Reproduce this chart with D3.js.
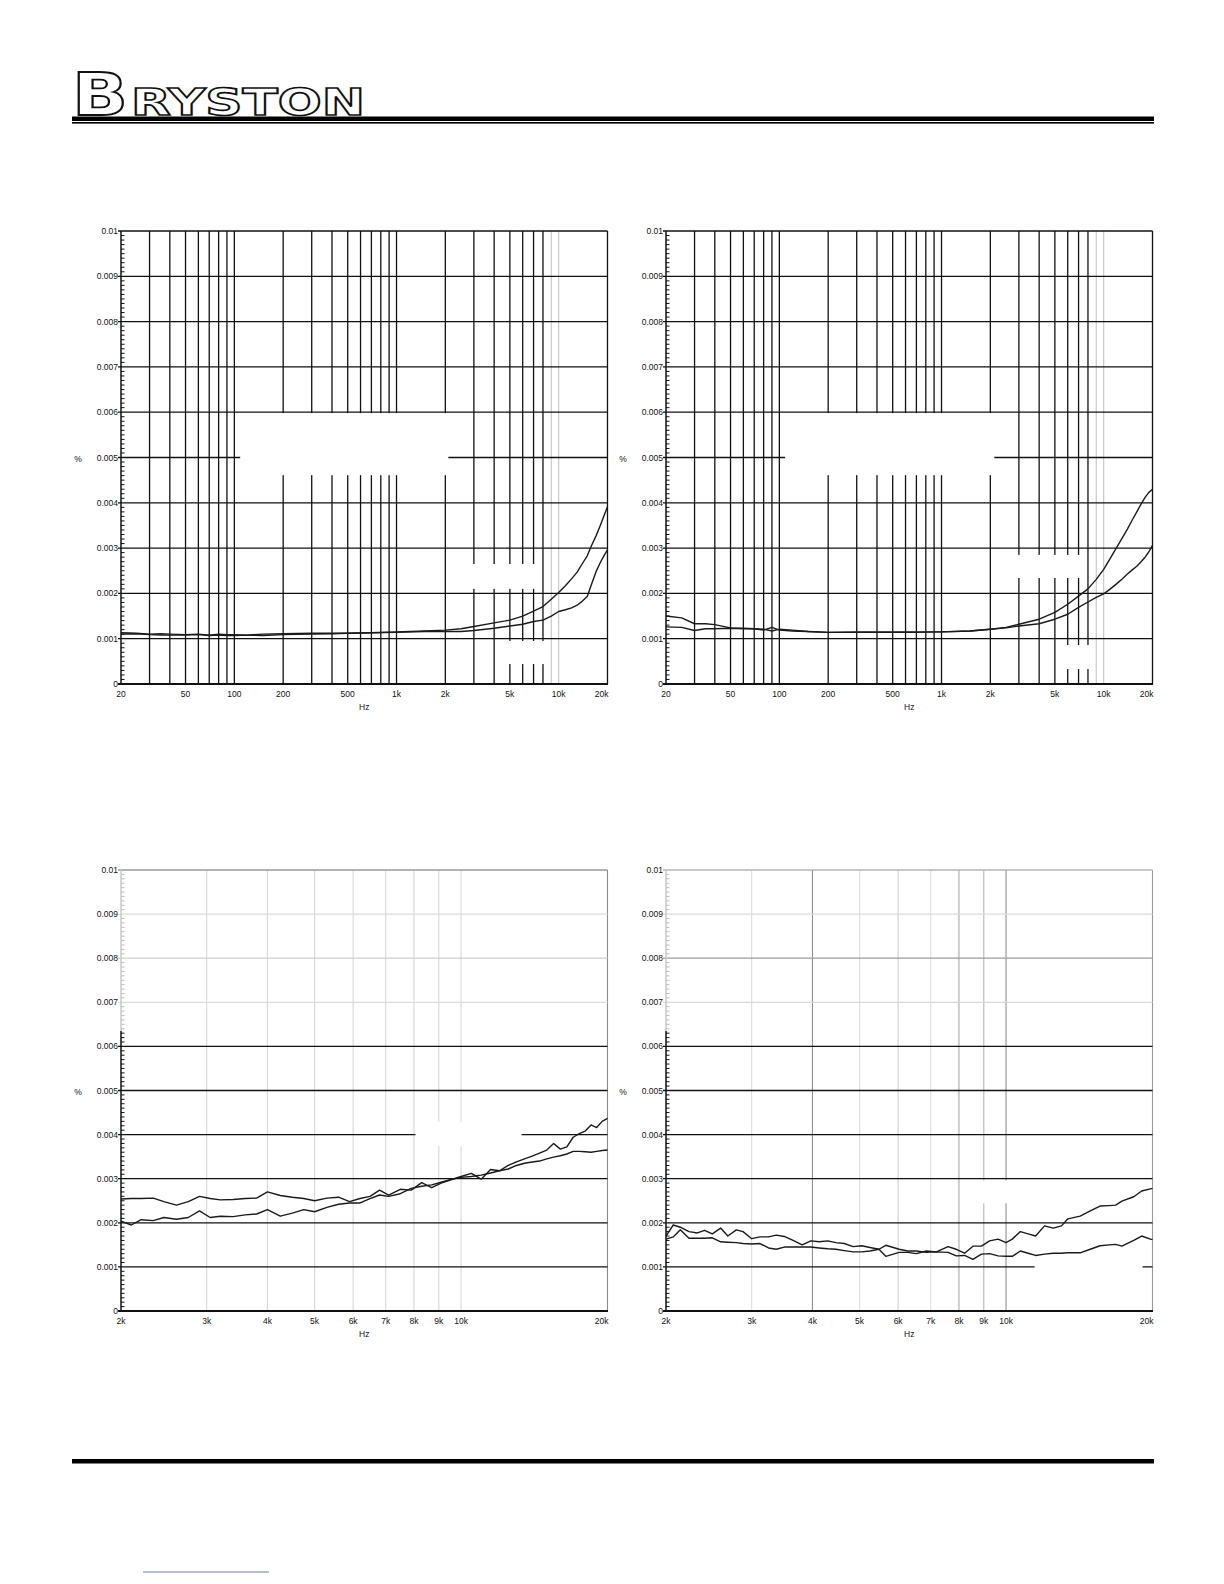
<!DOCTYPE html>
<html><head><meta charset="utf-8">
<script src="https://cdn.jsdelivr.net/npm/d3@7"></script>
<style>html,body{margin:0;padding:0;background:#fff}svg{display:block}</style>
</head><body>
<svg id="page" width="1224" height="1584"></svg>
<script>
// ---------------- DATA ----------------
const Y_TICKS = [0, 0.001, 0.002, 0.003, 0.004, 0.005, 0.006, 0.007, 0.008, 0.009, 0.01];
const Y_LABELS = ["0", "0.001", "0.002", "0.003", "0.004", "0.005", "0.006", "0.007", "0.008", "0.009", "0.01"];
const TOP_X_TICKS = [20, 50, 100, 200, 500, 1000, 2000, 5000, 10000, 20000];
const TOP_X_LABELS = ["20", "50", "100", "200", "500", "1k", "2k", "5k", "10k", "20k"];
const BOT_X_TICKS = [2000, 3000, 4000, 5000, 6000, 7000, 8000, 9000, 10000, 20000];
const BOT_X_LABELS = ["2k", "3k", "4k", "5k", "6k", "7k", "8k", "9k", "10k", "20k"];

const TOP_FREQ = [20,25,30,35,40,50,60,70,80,90,100,120,150,200,300,400,500,700,1000,1500,
  2000,2500,3000,4000,5000,6000,7000,8000,9000,10000,11000,12000,13000,14000,15000,16000,17000,18000,19000,20000];

const TL_A = [0.00113,0.00112,0.00110,0.00111,0.00110,0.00109,0.00110,0.00108,0.00110,0.00109,
  0.00109,0.00108,0.00110,0.00111,0.00112,0.00112,0.00112,0.00113,0.00115,0.00117,
  0.00119,0.00122,0.00127,0.00135,0.00141,0.00150,0.00161,0.00171,0.00187,0.00202,
  0.00217,0.00232,0.00247,0.00266,0.00283,0.00307,0.00327,0.00349,0.00371,0.00391];
const TL_B = [0.00110,0.00111,0.00109,0.00108,0.00108,0.00108,0.00109,0.00107,0.00108,0.00107,
  0.00107,0.00108,0.00107,0.00109,0.00110,0.00111,0.00112,0.00113,0.00114,0.00116,
  0.00116,0.00116,0.00118,0.00123,0.00128,0.00132,0.00138,0.00141,0.00150,0.00160,
  0.00164,0.00168,0.00174,0.00183,0.00193,0.00222,0.00248,0.00267,0.00283,0.00296];

const TR_A = [0.00150,0.00146,0.00133,0.00133,0.00131,0.00124,0.00123,0.00122,0.00119,0.00125,
  0.00119,0.00117,0.00116,0.00114,0.00115,0.00115,0.00115,0.00115,0.00115,0.00117,
  0.00121,0.00125,0.00132,0.00143,0.00158,0.00176,0.00194,0.00210,0.00231,0.00253,
  0.00278,0.00301,0.00322,0.00342,0.00362,0.00380,0.00397,0.00412,0.00423,0.00430];
const TR_B = [0.00126,0.00125,0.00118,0.00122,0.00122,0.00123,0.00122,0.00122,0.00121,0.00117,
  0.00121,0.00119,0.00116,0.00114,0.00114,0.00114,0.00114,0.00114,0.00115,0.00117,
  0.00121,0.00124,0.00128,0.00133,0.00143,0.00154,0.00169,0.00181,0.00191,0.00199,
  0.00210,0.00221,0.00232,0.00243,0.00252,0.00260,0.00270,0.00280,0.00292,0.00306];

const BL_FREQ = [2000,2100,2200,2330,2450,2600,2750,2900,3050,3200,3400,3600,3800,4000,4250,
  4500,4750,5000,5300,5600,5900,6200,6500,6800,7100,7500,7900,8300,8700,9100,9500,10000,
  10500,11000,11500,12000,12500,13000,13500,14000,14500,15000,15500,16000,16500,17000,
  17500,18000,18500,19000,19500,20000];
const BL_C = [0.00254,0.00255,0.00255,0.00256,0.00248,0.00240,0.00248,0.00260,0.00255,0.00252,
  0.00253,0.00255,0.00256,0.00270,0.00262,0.00258,0.00255,0.00250,0.00256,0.00258,
  0.00248,0.00255,0.00260,0.00274,0.00263,0.00276,0.00274,0.00291,0.00280,0.00290,
  0.00297,0.00305,0.00312,0.00299,0.00321,0.00318,0.00330,0.00338,0.00345,0.00351,
  0.00358,0.00365,0.00380,0.00367,0.00372,0.00394,0.00402,0.00408,0.00422,0.00416,
  0.00430,0.00437];
const BL_D = [0.00204,0.00195,0.00207,0.00205,0.00212,0.00208,0.00212,0.00227,0.00212,0.00215,
  0.00214,0.00218,0.00220,0.00230,0.00215,0.00222,0.00230,0.00225,0.00235,0.00242,
  0.00245,0.00245,0.00255,0.00263,0.00260,0.00266,0.00278,0.00283,0.00286,0.00292,
  0.00298,0.00303,0.00305,0.00308,0.00313,0.00318,0.00322,0.00330,0.00335,0.00338,
  0.00340,0.00345,0.00349,0.00352,0.00356,0.00362,0.00362,0.00361,0.00360,0.00362,
  0.00364,0.00365];

const BR_FREQ = [2000,2070,2140,2230,2320,2400,2490,2590,2680,2790,2880,3000,3120,3250,3370,
  3500,3650,3810,3970,4130,4300,4470,4650,4850,5050,5250,5480,5660,6030,6280,6540,6860,
  7190,7600,7900,8220,8550,8900,9250,9630,10000,10300,10700,11100,11500,12000,12500,
  13000,13400,14200,14900,15600,16300,16800,17300,18300,19000,19800,20000];
const BR_E = [0.00170,0.00195,0.00190,0.00180,0.00177,0.00183,0.00175,0.00188,0.00170,0.00184,
  0.00180,0.00164,0.00168,0.00168,0.00172,0.00169,0.00160,0.00150,0.00159,0.00157,
  0.00159,0.00155,0.00153,0.00146,0.00148,0.00144,0.00140,0.00124,0.00133,0.00133,
  0.00130,0.00136,0.00134,0.00146,0.00140,0.00131,0.00147,0.00147,0.00159,0.00163,
  0.00155,0.00163,0.00180,0.00175,0.00170,0.00193,0.00188,0.00193,0.00209,0.00215,
  0.00227,0.00238,0.00239,0.00240,0.00249,0.00259,0.00272,0.00277,0.00278];
const BR_F = [0.00163,0.00168,0.00184,0.00165,0.00165,0.00165,0.00166,0.00157,0.00156,0.00155,
  0.00153,0.00152,0.00153,0.00143,0.00140,0.00145,0.00145,0.00145,0.00145,0.00143,
  0.00141,0.00140,0.00137,0.00134,0.00134,0.00136,0.00140,0.00149,0.00140,0.00136,
  0.00136,0.00133,0.00134,0.00133,0.00125,0.00126,0.00117,0.00129,0.00130,0.00125,
  0.00124,0.00124,0.00136,0.00131,0.00126,0.00129,0.00131,0.00131,0.00132,0.00132,
  0.00140,0.00148,0.00150,0.00151,0.00147,0.00160,0.00170,0.00163,0.00162];

// ---------------- DRAWING ----------------
const svg = d3.select("#page");
const FONT = "'Liberation Sans', Arial, Helvetica, sans-serif";
const INK = "#111";

function drawChart(c) {
  const g = svg.append("g");
  const x = d3.scaleLog().domain(c.domain).range([c.left, c.right]);
  const y = d3.scaleLinear().domain([0, 0.01]).range([c.bottom, c.top]);

  // vertical grid (library log ticks: 1..9 per decade)
  const vt = x.ticks().filter(f => f > c.domain[0] * 1.001);
  g.selectAll(null).data(vt).join("line")
    .attr("x1", d => x(d)).attr("x2", d => x(d))
    .attr("y1", y(0)).attr("y2", y(0.01))
    .attr("stroke", d => c.vColor(Math.round(d)))
    .attr("stroke-width", d => c.vWidth(Math.round(d)));

  // horizontal grid with small stub to the left
  g.selectAll(null).data(Y_TICKS.slice(1).map((v, i) => [v, i + 1])).join("line")
    .attr("x1", c.left - 3).attr("x2", c.right)
    .attr("y1", d => y(d[0])).attr("y2", d => y(d[0]))
    .attr("stroke", d => c.hColor(d[1]))
    .attr("stroke-width", 1.3);

  // white-out patches (data space)
  g.selectAll(null).data(c.whiteouts).join("rect")
    .attr("x", d => x(d[0])).attr("width", d => x(d[1]) - x(d[0]))
    .attr("y", d => y(d[2])).attr("height", d => y(d[3]) - y(d[2]))
    .attr("fill", "#fff");

  // minor ticks (every 0.0001), pointing into the plot
  const minor = y.ticks(100).filter(v => Math.abs(v * 1000 - Math.round(v * 1000)) > 1e-6);
  g.selectAll(null).data(minor).join("line")
    .attr("x1", c.left).attr("x2", c.left + 3.5)
    .attr("y1", d => y(d)).attr("y2", d => y(d))
    .attr("stroke", d => c.minorColor(d)).attr("stroke-width", 1);

  // data series
  const line = d3.line().x(d => x(d[0])).y(d => y(d[1]));
  c.series.forEach(s => {
    g.append("path").datum(d3.zip(c.freq, s)).attr("d", line)
      .attr("fill", "none").attr("stroke", "#1a1a1a").attr("stroke-width", 1.4)
      .attr("stroke-linejoin", "round");
  });

  // axes lines
  c.leftAxis.forEach(seg => {
    g.append("line").attr("x1", c.left).attr("x2", c.left)
      .attr("y1", y(seg[0])).attr("y2", y(seg[1]))
      .attr("stroke", seg[2]).attr("stroke-width", 1.5);
  });
  g.append("line").attr("x1", c.left - 3).attr("x2", c.right + 0.5)
    .attr("y1", y(0)).attr("y2", y(0)).attr("stroke", INK).attr("stroke-width", 1.8);

  // y labels
  g.selectAll(null).data(Y_TICKS.map((v, i) => [v, Y_LABELS[i]])).join("text")
    .attr("x", c.left - 3).attr("y", d => y(d[0]) + 3)
    .attr("text-anchor", "end").attr("font-family", FONT).attr("font-size", 8.5)
    .attr("fill", INK).text(d => d[1]);

  // x labels
  g.selectAll(null).data(c.xTicks.map((v, i) => [v, c.xLabels[i], i])).join("text")
    .attr("x", d => d[2] === c.xTicks.length - 1 ? x(d[0]) + 1 : x(d[0]))
    .attr("y", c.bottom + 13)
    .attr("text-anchor", d => d[2] === c.xTicks.length - 1 ? "end" : "middle")
    .attr("font-family", FONT).attr("font-size", 8.5).attr("fill", INK)
    .text(d => d[1]);

  // axis titles
  g.append("text").attr("x", (c.left + c.right) / 2).attr("y", c.bottom + 26)
    .attr("text-anchor", "middle").attr("font-family", FONT).attr("font-size", 8.5)
    .attr("fill", INK).text("Hz");
  g.append("text").attr("x", c.left - 43).attr("y", y(0.005) + 4)
    .attr("text-anchor", "middle").attr("font-family", FONT).attr("font-size", 8.5)
    .attr("fill", INK).text("%");
}

const topV = f => (f === 9000 || f === 10000) ? "#c4c4c4" : INK;
const topW = f => (f === 9000 || f === 10000) ? 1.1 : 1.3;
const topH = i => INK;
const blackMinor = v => INK;
const greyTopMinor = v => v > 0.00635 ? "#bdbdbd" : INK;

drawChart({
  left: 121, right: 607.5, top: 231, bottom: 684, domain: [20, 20000],
  freq: TOP_FREQ, series: [TL_A, TL_B],
  xTicks: TOP_X_TICKS, xLabels: TOP_X_LABELS,
  vColor: topV, vWidth: topW, hColor: topH, minorColor: blackMinor,
  leftAxis: [[0, 0.01, INK]],
  whiteouts: [[108.6, 2088, 0.00598, 0.00461], [2774, 7499, 0.00265, 0.00210], [4690, 8398, 0.00095, 0.00044]]
});
drawChart({
  left: 666, right: 1152.5, top: 231, bottom: 684, domain: [20, 20000],
  freq: TOP_FREQ, series: [TR_A, TR_B],
  xTicks: TOP_X_TICKS, xLabels: TOP_X_LABELS,
  vColor: topV, vWidth: topW, hColor: topH, minorColor: blackMinor,
  leftAxis: [[0, 0.01, INK]],
  whiteouts: [[108.6, 2117, 0.00598, 0.00461], [2813, 7499, 0.00285, 0.00234], [5560, 8398, 0.00086, 0.00033]]
});

const blH = { 10: "#9a9a9a", 9: "#dcdcdc", 8: "#cfcfcf", 7: "#dcdcdc" };
drawChart({
  left: 121, right: 607.5, top: 870, bottom: 1311, domain: [2000, 20000],
  freq: BL_FREQ, series: [BL_C, BL_D],
  xTicks: BOT_X_TICKS, xLabels: BOT_X_LABELS,
  vColor: f => f === 20000 ? "#8a8a8a" : "#d8d8d8", vWidth: f => 1.1,
  hColor: i => blH[i] || INK, minorColor: greyTopMinor,
  leftAxis: [[0.00635, 0.01, "#c8c8c8"], [0, 0.00635, INK]],
  whiteouts: [[8060, 13318, 0.00429, 0.00374]]
});

const brV = { 3000: "#dedede", 4000: "#8f8f8f", 5000: "#dedede", 6000: "#d2d2d2", 7000: "#dedede",
  8000: "#cdcdcd", 9000: "#b8b8b8", 10000: "#8f8f8f", 20000: "#9a9a9a" };
const brH = { 10: "#b4b4b4", 9: "#dcdcdc", 8: "#9c9c9c", 7: "#d8d8d8" };
drawChart({
  left: 666, right: 1152.5, top: 870, bottom: 1311, domain: [2000, 20000],
  freq: BR_FREQ, series: [BR_E, BR_F],
  xTicks: BOT_X_TICKS, xLabels: BOT_X_LABELS,
  vColor: f => brV[f] || "#dedede", vWidth: f => f === 8000 ? 2 : 1.1,
  hColor: i => brH[i] || INK, minorColor: greyTopMinor,
  leftAxis: [[0.00635, 0.01, "#c8c8c8"], [0, 0.00635, INK]],
  whiteouts: [[11447, 19081, 0.00111, 0.00088], [8663, 10267, 0.00296, 0.00244]]
});

// ---------------- HEADER / FOOTER ----------------
svg.append("text").attr("x", 72).attr("y", 115)
  .attr("font-family", "'DejaVu Sans', sans-serif").attr("font-weight", "bold")
  .attr("font-size", 58).attr("fill", "#fff").attr("stroke", INK).attr("stroke-width", 1.8)
  .attr("textLength", 56).attr("lengthAdjust", "spacingAndGlyphs").text("B");
svg.append("text").attr("x", 131).attr("y", 115)
  .attr("font-family", "'DejaVu Sans', sans-serif").attr("font-weight", "bold")
  .attr("font-size", 37).attr("fill", "#fff").attr("stroke", INK).attr("stroke-width", 1.6)
  .attr("textLength", 234).attr("lengthAdjust", "spacingAndGlyphs").text("RYSTON");

svg.append("rect").attr("x", 72).attr("y", 116.5).attr("width", 1082).attr("height", 4.5).attr("fill", "#000");
svg.append("rect").attr("x", 72).attr("y", 122).attr("width", 1082).attr("height", 1.6).attr("fill", "#000");
svg.append("rect").attr("x", 72).attr("y", 1459).attr("width", 1082).attr("height", 4.5).attr("fill", "#000");
svg.append("line").attr("x1", 143).attr("x2", 269).attr("y1", 1572).attr("y2", 1572)
  .attr("stroke", "#6f7fb0").attr("stroke-width", 1);
</script>
</body></html>
